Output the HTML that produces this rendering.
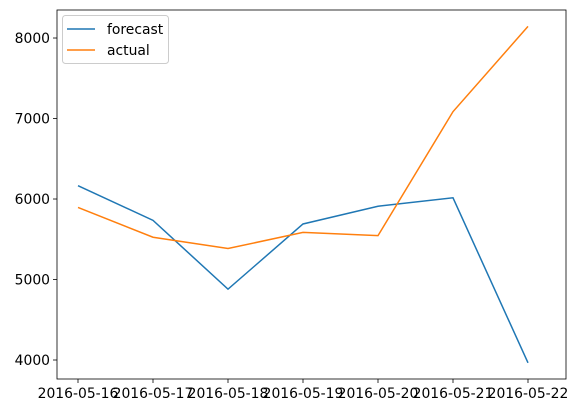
<!DOCTYPE html>
<html><head><meta charset="utf-8"><style>
body{margin:0;background:#fff;font-family:"DejaVu Sans","Liberation Sans",sans-serif}
</style></head><body>
<svg width="578" height="413" xmlns="http://www.w3.org/2000/svg" font-family="DejaVu Sans, Liberation Sans, sans-serif">
<g id="chart"></g>
</svg>
<script>
const categories=["2016-05-16","2016-05-17","2016-05-18","2016-05-19","2016-05-20","2016-05-21","2016-05-22"];
const forecast=[6165,5735,4880,5690,5910,6015,3965];
const actual=[5895,5525,5385,5585,5545,7085,8145];
const yTicks=[4000,5000,6000,7000,8000];
const L=57,R=566,T=10,B=379,yMin=3764,yMax=8348;
const x0=78,x1=528;
const xs=i=>x0+(x1-x0)*i/(categories.length-1);
const ys=v=>B-(v-yMin)/(yMax-yMin)*(B-T);
const ns="http://www.w3.org/2000/svg";
const g=document.getElementById('chart');
function el(t,a){const e=document.createElementNS(ns,t);for(const k in a)e.setAttribute(k,a[k]);g.appendChild(e);return e;}
yTicks.forEach(v=>{
 const t=el('line',{x1:L-4,x2:L,y1:ys(v),y2:ys(v),stroke:'#000','stroke-width':0.8});
 
 
 const s=el('text',{x:L-7,y:ys(v)+5,'text-anchor':'end','font-size':'13.9',fill:'#000'});
 s.textContent=v;
 
 
});
categories.forEach((c,i)=>{
 const t=el('line',{x1:xs(i),x2:xs(i),y1:B,y2:B+4,stroke:'#000','stroke-width':0.8});
 
 
 const s=el('text',{x:xs(i),y:B+19,'text-anchor':'middle','font-size':'13.9',fill:'#000'});
 s.textContent=c;
 
 
});
function series(d,col,name){
 const p=el('polyline',{points:d.map((v,i)=>xs(i)+','+ys(v)).join(' '),fill:'none',stroke:col,'stroke-width':1.5});
 
 
}
series(forecast,'#1f77b4','forecast-line');
series(actual,'#ff7f0e','actual-line');
const f=el('rect',{x:L,y:T,width:R-L,height:B-T,fill:'none',stroke:'#000','stroke-width':0.8});


const lg=el('rect',{x:62.5,y:15.5,width:106,height:48,rx:3,fill:'#fff','fill-opacity':0.8,stroke:'#ccc'});


[['forecast','#1f77b4',29],['actual','#ff7f0e',50]].forEach(([n,c,y])=>{
 const l=el('line',{x1:67,x2:95,y1:y,y2:y,stroke:c,'stroke-width':1.5});
 
 
 const t=el('text',{x:107,y:y+5,'font-size':'13.9',fill:'#000'});
 t.textContent=n;
 
 
});
</script>
</body></html>
